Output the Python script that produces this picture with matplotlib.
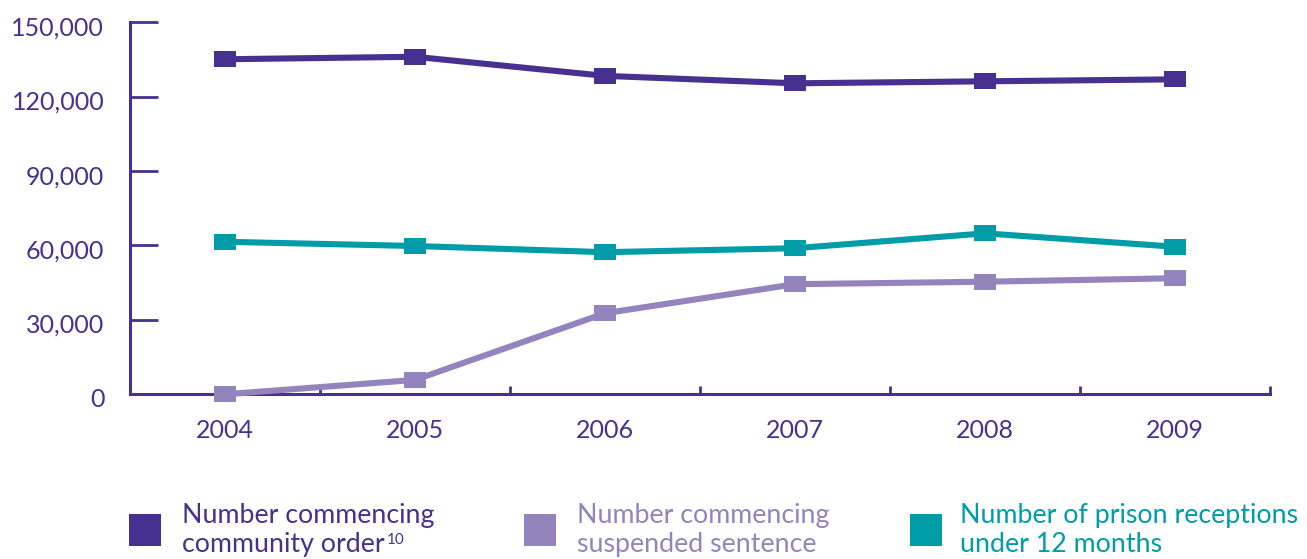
import numpy as np
import matplotlib
matplotlib.use('Agg')
import matplotlib.pyplot as plt
import matplotlib.patches as patches
from matplotlib.path import Path
from matplotlib.ticker import FuncFormatter
from matplotlib.transforms import ScaledTranslation

plt.rcParams['font.family'] = ['Lato', 'DejaVu Sans']

years = [2004, 2005, 2006, 2007, 2008, 2009]
community_order = [135100, 136100, 128400, 125400, 126200, 127000]
suspended_sentence = [0, 5800, 32700, 44400, 45400, 46800]
prison_receptions = [61500, 59800, 57300, 58900, 64900, 59500]

series_labels = [
    ('Number commencing', 'community order'),
    ('Number commencing', 'suspended sentence'),
    ('Number of prison receptions', 'under 12 months'),
]

DARK = '#463190'
LIGHT = '#9384be'
TEAL = '#009da9'

W, H = 1307, 559

# wide, flat square marker
rect_marker = Path([(-1, -0.72), (1, -0.72), (1, 0.72), (-1, 0.72), (-1, -0.72)],
                   [Path.MOVETO, Path.LINETO, Path.LINETO, Path.LINETO, Path.CLOSEPOLY])

fig = plt.figure(figsize=(W / 100, H / 100), dpi=100)
fig.patch.set_facecolor('white')
ax = fig.add_axes([130 / W, 1 - 394.3 / H, 1140 / W, 372 / H])

for vals, color in [(suspended_sentence, LIGHT), (prison_receptions, TEAL), (community_order, DARK)]:
    ax.plot(years, vals, color=color, lw=4.4, marker=rect_marker, markersize=15.5,
            markeredgewidth=0, solid_joinstyle='miter', clip_on=False, zorder=3)

ax.set_xlim(2003.5, 2009.5)
ax.set_ylim(0, 150000)

ax.spines['top'].set_visible(False)
ax.spines['right'].set_visible(False)
for side in ['left', 'bottom']:
    ax.spines[side].set_color(DARK)
    ax.spines[side].set_linewidth(2.2)
    ax.spines[side].set_capstyle('projecting')

ax.set_yticks(np.arange(0, 150001, 30000))
ax.yaxis.set_major_formatter(FuncFormatter(lambda v, p: f'{int(v):,}'))
ax.tick_params(axis='y', direction='in', length=20, width=2, color=DARK,
               labelcolor=DARK, labelsize=18, pad=18.5)
# nudge the y labels a little below their ticks
for lab in ax.get_yticklabels():
    lab.set_transform(lab.get_transform() + ScaledTranslation(0, -0.035, fig.dpi_scale_trans))

# ticks between years, labels centred on the years
ax.set_xticks(np.arange(2004.5, 2010, 1))
ax.set_xticklabels([])
ax.set_xticks(years, minor=True)
ax.set_xticklabels([str(y) for y in years], minor=True)
ax.tick_params(axis='x', which='major', direction='in', length=6, width=2, color=DARK)
ax.tick_params(axis='x', which='minor', length=0, labelcolor=DARK, labelsize=18, pad=18)

# legend
legend_colors = [DARK, LIGHT, TEAL]
box_x = [129, 524, 910]
text_x = [182, 577, 960]
renderer = fig.canvas.get_renderer()
for (line1, line2), color, bx, tx in zip(series_labels, legend_colors, box_x, text_x):
    fig.add_artist(patches.Rectangle((bx / W, 1 - 546 / H), 32 / W, 32 / H,
                                     transform=fig.transFigure, facecolor=color,
                                     edgecolor='none'))
    fig.text(tx / W, 1 - 523 / H, line1, color=color, fontsize=19.3, va='baseline', ha='left')
    t2 = fig.text(tx / W, 1 - 552 / H, line2, color=color, fontsize=19.3, va='baseline', ha='left')
    if line2 == 'community order':
        x_end = t2.get_window_extent(renderer).x1
        fig.text((x_end + 2) / W, 1 - 544 / H, '10', color=color, fontsize=11,
                 va='baseline', ha='left')

fig.savefig('out.png', dpi=100, facecolor='white')
